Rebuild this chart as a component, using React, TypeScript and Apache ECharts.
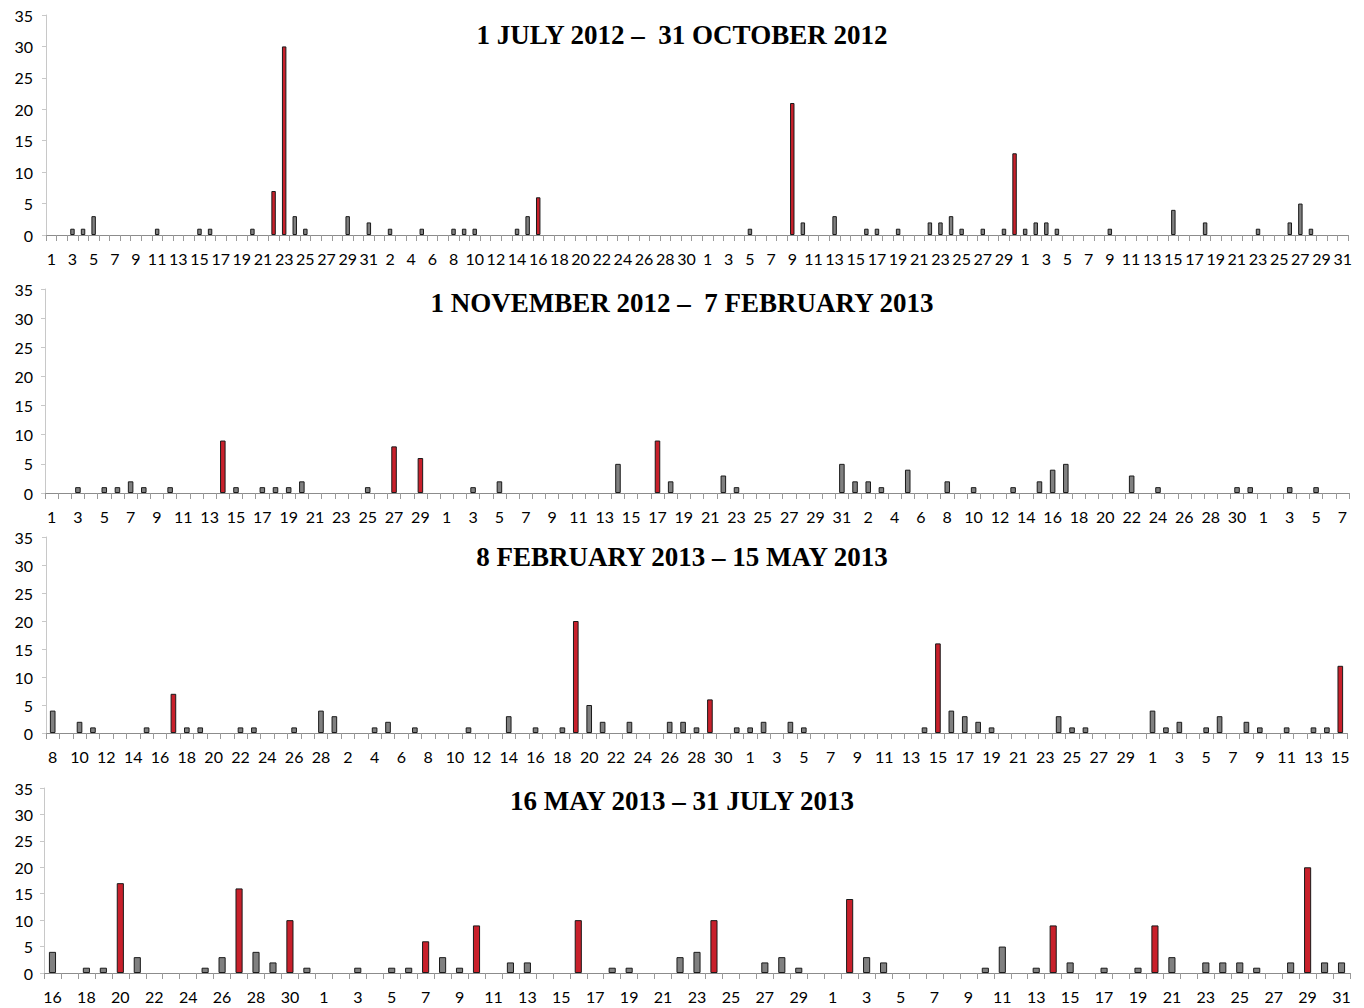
import React, { useEffect, useRef } from "react";
import * as echarts from "echarts";

// ---- daily counts, one array per month segment ----
const JUL_2012 = [0,0,1,1,3,0,0,0,0,0, 1,0,0,0,1,1,0,0,0,1, 0,7,30,3,1,0,0,0,3,0, 2];
const AUG_2012 = [0,1,0,0,1,0,0,1,1,1, 0,0,0,1,3,6,0,0,0,0, 0,0,0,0,0,0,0,0,0,0, 0];
const SEP_2012 = [0,0,0,0,1,0,0,0,21,2, 0,0,3,0,0,1,1,0,1,0, 0,2,2,3,1,0,1,0,1,13];
const OCT_2012 = [1,2,2,1,0,0,0,0,1,0, 0,0,0,0,4,0,0,2,0,0, 0,0,1,0,0,2,5,1,0,0, 0];

const NOV_2012 = [0,0,1,0,1,1,2,1,0,1, 0,0,0,9,1,0,1,1,1,2, 0,0,0,0,1,0,8,0,6,0];
const DEC_2012 = [0,0,1,0,2,0,0,0,0,0, 0,0,0,5,0,0,9,2,0,0, 0,3,1,0,0,0,0,0,0,0, 5];
const JAN_2013 = [2,2,1,0,4,0,0,2,0,1, 0,0,1,0,2,4,5,0,0,0, 0,3,0,1,0,0,0,0,0,1, 1];
const FEB_2013_A = [0,0,1,0,1,0,0]; // 1-7 Feb

const FEB_2013_B = [4,0,2,1,0,0,0,1,0,7,1,1,0,0,1,1,0,0,1,0,4]; // 8-28 Feb
const MAR_2013 = [3,0,0,1,2,0,1,0,0,0, 1,0,0,3,0,1,0,1,20,5, 2,0,2,0,0,2,2,1,6,0, 1];
const APR_2013 = [1,2,0,2,1,0,0,0,0,0, 0,0,0,1,16,4,3,2,1,0, 0,0,0,3,1,1,0,0,0,0];
const MAY_2013_A = [4,1,2,0,1,3,0,2,1,0,1,0,1,1,12]; // 1-15 May

const MAY_2013_B = [4,0,1,1,17,3,0,0,0,1,3,16,4,2,10,1]; // 16-31 May
const JUN_2013 = [0,0,1,0,1,1,6,3,1,9, 0,2,2,0,0,10,0,1,1,0, 0,3,4,10,0,0,2,3,1,0];
const JUL_2013 = [0,14,3,2,0,0,0,0,0,1, 5,0,1,9,2,0,1,0,1,9, 3,0,2,2,2,1,0,2,20,2, 2];

const TITLES = [
  "1 JULY 2012 \u2013  31 OCTOBER 2012",
  "1 NOVEMBER 2012 \u2013  7 FEBRUARY 2013",
  "8 FEBRUARY 2013 \u2013 15 MAY 2013",
  "16 MAY 2013 \u2013 31 JULY 2013",
];

// each segment: first day-of-month number, then the daily values
const PANEL_SEGMENTS = [
  [[1, JUL_2012], [1, AUG_2012], [1, SEP_2012], [1, OCT_2012]],
  [[1, NOV_2012], [1, DEC_2012], [1, JAN_2013], [1, FEB_2013_A]],
  [[8, FEB_2013_B], [1, MAR_2013], [1, APR_2013], [1, MAY_2013_A]],
  [[16, MAY_2013_B], [1, JUN_2013], [1, JUL_2013]],
] as [number, number[]][][];

const Y_MAX = 35;
const Y_STEP = 5;
const RED_THRESHOLD = 6;

// ---- layout / styles ----
const LAYOUT = [
  { top: 15, bottom: 235, left: 46, right: 16, titleY: 35 },
  { top: 289, bottom: 493, left: 45, right: 15, titleY: 303 },
  { top: 537, bottom: 733, left: 46, right: 17, titleY: 557 },
  { top: 788, bottom: 973, left: 44, right: 14, titleY: 801 },
];
const RED = "#c8202b";
const GREY = "#808080";
const LABEL_FONT = "Lato, 'Liberation Sans', sans-serif";

export default function App() {
  const ref = useRef<HTMLDivElement>(null);

  useEffect(() => {
    if (!ref.current) return;
    const chart = echarts.init(ref.current, undefined, { renderer: "svg" });

    const grids: any[] = [];
    const xAxes: any[] = [];
    const yAxes: any[] = [];
    const series: any[] = [];
    const graphics: any[] = [];

    PANEL_SEGMENTS.forEach((segs, p) => {
      const cats: string[] = [];
      const vals: number[] = [];
      segs.forEach(([first, values]) => {
        values.forEach((v, i) => {
          cats.push(String(first + i));
          vals.push(v);
        });
      });
      const L = LAYOUT[p];
      grids.push({
        left: L.left,
        right: L.right,
        top: L.top,
        height: L.bottom - L.top,
      });
      xAxes.push({
        type: "category",
        gridIndex: p,
        data: cats,
        boundaryGap: true,
        axisLine: { lineStyle: { color: "#8c8c8c", width: 1 } },
        axisTick: { show: true, interval: 0, length: 6, lineStyle: { color: "#9a9a9a", width: 1 } },
        axisLabel: {
          interval: 1,
          color: "#000",
          fontSize: 16,
          fontFamily: LABEL_FONT,
          margin: 15,
        },
      });
      yAxes.push({
        type: "value",
        gridIndex: p,
        min: 0,
        max: Y_MAX,
        interval: Y_STEP,
        splitLine: { show: false },
        axisLine: { show: true, lineStyle: { color: "#c8c8c8" } },
        axisTick: { show: true, length: 4, lineStyle: { color: "#c8c8c8" } },
        axisLabel: {
          color: "#000",
          fontSize: 16,
          fontFamily: LABEL_FONT,
          margin: L.left - 33,
        },
      });
      series.push({
        type: "bar",
        xAxisIndex: p,
        yAxisIndex: p,
        barWidth: "42%",
        data: vals.map((v) => ({
          value: v,
          itemStyle:
            v === 0
              ? { opacity: 0, borderWidth: 0 }
              : {
                  color: v >= RED_THRESHOLD ? RED : GREY,
                  borderColor: "#1a1a1a",
                  borderWidth: 1,
                },
        })),
      });
      graphics.push({
        type: "text",
        x: 682,
        y: L.titleY,
        style: {
          text: TITLES[p],
          fontFamily: "'Liberation Serif', 'DejaVu Serif', serif",
          fontWeight: "bold",
          fontSize: 27,
          fill: "#000",
          textAlign: "center",
          textVerticalAlign: "middle",
        },
      });
    });

    chart.setOption({
      animation: false,
      backgroundColor: "#fff",
      grid: grids,
      xAxis: xAxes,
      yAxis: yAxes,
      series,
      graphic: graphics,
    });

    return () => chart.dispose();
  }, []);

  return (
    <div
      ref={ref}
      style={{ position: "absolute", left: 0, top: 0, width: 1364, height: 1008, background: "#fff" }}
    />
  );
}
